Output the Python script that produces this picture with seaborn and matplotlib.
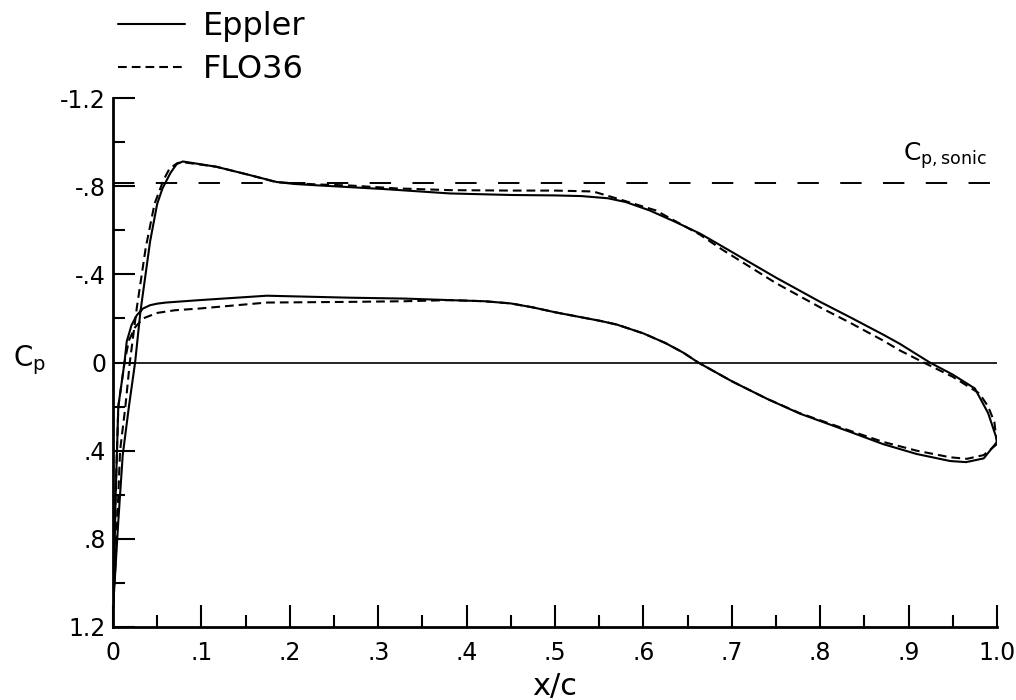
import numpy as np
import pandas as pd
import matplotlib
matplotlib.use("Agg")
import matplotlib.pyplot as plt
import seaborn as sns
from matplotlib.lines import Line2D
from matplotlib.ticker import FixedLocator, FixedFormatter, MultipleLocator

# ---------------- data ----------------
eppler_upper_x = [0.0, 0.003, 0.006, 0.011, 0.018, 0.025, 0.031, 0.042, 0.05, 0.056, 0.065,
                  0.072, 0.079, 0.095, 0.117, 0.155, 0.185, 0.205, 0.23, 0.306, 0.381, 0.45, 0.50,
                  0.53, 0.56, 0.58, 0.607, 0.635, 0.664, 0.69, 0.72, 0.75, 0.80, 0.834, 0.871,
                  0.89, 0.924, 0.95, 0.975, 0.99, 1.0]
eppler_upper_cp = [1.12, 0.92, 0.72, 0.42, 0.2, 0.0, -0.23, -0.55, -0.72, -0.79, -0.86,
                   -0.9, -0.912, -0.902, -0.888, -0.85, -0.819, -0.81, -0.804, -0.787, -0.767, -0.76, -0.758,
                   -0.755, -0.745, -0.728, -0.69, -0.64, -0.585, -0.525, -0.455, -0.385, -0.275, -0.205, -0.127,
                   -0.085, 0.0, 0.055, 0.118, 0.23, 0.35]

eppler_lower_x = [0.0, 0.002, 0.003, 0.006, 0.013, 0.0155, 0.021, 0.027, 0.034, 0.042, 0.05,
                  0.06, 0.098, 0.174, 0.268, 0.33, 0.381, 0.42, 0.45, 0.475, 0.50, 0.53, 0.551,
                  0.57, 0.60, 0.625, 0.645, 0.662, 0.70, 0.74, 0.777, 0.834, 0.871, 0.909, 0.947,
                  0.965, 0.985, 1.0]
eppler_lower_cp = [1.12, 0.8, 0.6, 0.2, 0.0, -0.095, -0.17, -0.215, -0.245, -0.26, -0.267,
                   -0.272, -0.283, -0.303, -0.294, -0.29, -0.283, -0.278, -0.268, -0.25, -0.228, -0.205, -0.189,
                   -0.172, -0.132, -0.088, -0.045, 0.0, 0.085, 0.165, 0.232, 0.315, 0.37, 0.415, 0.447,
                   0.452, 0.435, 0.36]

flo36_upper_x = [0.0, 0.003, 0.008, 0.014, 0.019, 0.027, 0.037, 0.047, 0.057, 0.064, 0.073,
                 0.08, 0.09, 0.117, 0.155, 0.185, 0.23, 0.268, 0.32, 0.381, 0.45, 0.50, 0.543,
                 0.57, 0.614, 0.664, 0.69, 0.72, 0.75, 0.80, 0.834, 0.871, 0.89, 0.917, 0.95,
                 0.98, 0.99, 0.997, 1.0]
flo36_upper_cp = [1.12, 0.9, 0.4, 0.2, 0.0, -0.25, -0.52, -0.72, -0.827, -0.88, -0.905,
                  -0.908, -0.903, -0.888, -0.85, -0.818, -0.808, -0.803, -0.79, -0.782, -0.78, -0.78, -0.776,
                  -0.744, -0.69, -0.58, -0.51, -0.435, -0.36, -0.25, -0.18, -0.1, -0.055, 0.0, 0.065,
                  0.14, 0.2, 0.27, 0.37]

flo36_lower_x = [0.0, 0.002, 0.003, 0.006, 0.013, 0.018, 0.025, 0.034, 0.05, 0.07, 0.098,
                 0.174, 0.268, 0.33, 0.381, 0.42, 0.45, 0.475, 0.50, 0.53, 0.551, 0.57, 0.60,
                 0.625, 0.645, 0.662, 0.70, 0.74, 0.777, 0.834, 0.871, 0.909, 0.947, 0.966,
                 0.985, 1.0]
flo36_lower_cp = [1.12, 0.8, 0.6, 0.2, 0.0, -0.1, -0.16, -0.2, -0.225, -0.237, -0.245,
                  -0.272, -0.275, -0.278, -0.283, -0.278, -0.268, -0.25, -0.228, -0.205, -0.189, -0.172, -0.132,
                  -0.088, -0.045, 0.0, 0.085, 0.165, 0.23, 0.31, 0.36, 0.4, 0.43, 0.437,
                  0.42, 0.37]

cp_sonic = -0.815
sonic_x = [0.0, 1.0]

series_names = ["Eppler", "FLO36"]
xtick_values = [0.0, 0.1, 0.2, 0.3, 0.4, 0.5, 0.6, 0.7, 0.8, 0.9, 1.0]
xtick_labels = ["0", ".1", ".2", ".3", ".4", ".5", ".6", ".7", ".8", ".9", "1.0"]
ytick_values = [-1.2, -0.8, -0.4, 0.0, 0.4, 0.8, 1.2]
ytick_labels = ["-1.2", "-.8", "-.4", "0", ".4", ".8", "1.2"]

# ---------------- long table: each model one path (TE->LE upper, LE->TE lower)
rows = []
for name, ux, ucp, lx, lcp in [
    ("Eppler", eppler_upper_x, eppler_upper_cp, eppler_lower_x, eppler_lower_cp),
    ("FLO36", flo36_upper_x, flo36_upper_cp, flo36_lower_x, flo36_lower_cp),
]:
    xs = list(ux[::-1]) + list(lx[1:])
    cs = list(ucp[::-1]) + list(lcp[1:])
    for a, b in zip(xs, cs):
        rows.append({"x/c": a, "Cp": b, "model": name})
df = pd.DataFrame(rows)
sonic_df = pd.DataFrame({"x/c": sonic_x, "Cp": [cp_sonic, cp_sonic]})

# ---------------- style
sns.set_theme(style="ticks")
plt.rcParams["font.family"] = ["DejaVu Sans"]
plt.rcParams["mathtext.fontset"] = "custom"
plt.rcParams["mathtext.rm"] = "DejaVu Sans"
plt.rcParams["mathtext.it"] = "DejaVu Sans"
plt.rcParams["text.color"] = "black"
plt.rcParams["axes.labelcolor"] = "black"
plt.rcParams["xtick.color"] = "black"
plt.rcParams["ytick.color"] = "black"

fig = plt.figure(figsize=(10.16, 7.0), dpi=100)
ax = fig.add_axes([113 / 1016, 1 - 627 / 700, 884 / 1016, 529 / 700])

lw = 1.5
sns.lineplot(data=df, x="x/c", y="Cp", style="model", units="model",
             estimator=None, sort=False, color="black", linewidth=lw,
             dashes={"Eppler": "", "FLO36": (4.2, 2.4)}, legend=False, ax=ax)
sns.lineplot(data=sonic_df, x="x/c", y="Cp", color="black", linewidth=1.4,
             estimator=None, sort=False, ax=ax)
ax.lines[-1].set_dashes((11, 11))
ax.axhline(0.0, color="black", linewidth=1.2, zorder=1)

ax.set_xlim(0, 1.0)
ax.set_ylim(1.2, -1.2)

ax.xaxis.set_major_locator(FixedLocator(xtick_values))
ax.xaxis.set_major_formatter(FixedFormatter(xtick_labels))
ax.xaxis.set_minor_locator(MultipleLocator(0.05))
ax.yaxis.set_major_locator(FixedLocator(ytick_values))
ax.yaxis.set_major_formatter(FixedFormatter(ytick_labels))
ax.yaxis.set_minor_locator(MultipleLocator(0.2))

ax.tick_params(axis="both", which="major", direction="in", length=16, width=1.5,
               labelsize=17, colors="black")
ax.tick_params(axis="both", which="minor", direction="in", length=8.5, width=1.5,
               colors="black")
ax.tick_params(axis="x", which="major", pad=10)
ax.tick_params(axis="y", which="major", pad=5)

sns.despine(ax=ax)
for s in ["left", "bottom"]:
    ax.spines[s].set_linewidth(2.0)
    ax.spines[s].set_color("black")

ax.set_xlabel("x/c", fontsize=22, color="black")
ax.xaxis.set_label_coords(0.5, -0.113)
ax.xaxis.label.set_va("center")
ax.set_ylabel(r"$\mathregular{C_p}$", fontsize=20, rotation=0, color="black")
ax.yaxis.set_label_coords(-0.094, 0.505)
ax.yaxis.label.set_va("center")
ax.yaxis.label.set_ha("center")

ax.text(0.894, -0.917, r"$\mathregular{C_{p,sonic}}$", fontsize=18, ha="left",
        va="baseline", color="black")

handles = [Line2D([], [], color="black", linewidth=lw, linestyle="-"),
           Line2D([], [], color="black", linewidth=lw, dashes=(4.2, 2.4))]
leg = fig.legend(handles, series_names, loc="upper left",
                 bbox_to_anchor=(118 / 1016, 1 - 11 / 700), frameon=False, fontsize=23,
                 handlelength=2.1, handletextpad=0.55, borderpad=0, borderaxespad=0,
                 labelspacing=0.37)
for t in leg.get_texts():
    t.set_color("black")

fig.savefig("out.png", dpi=100, facecolor="white")
